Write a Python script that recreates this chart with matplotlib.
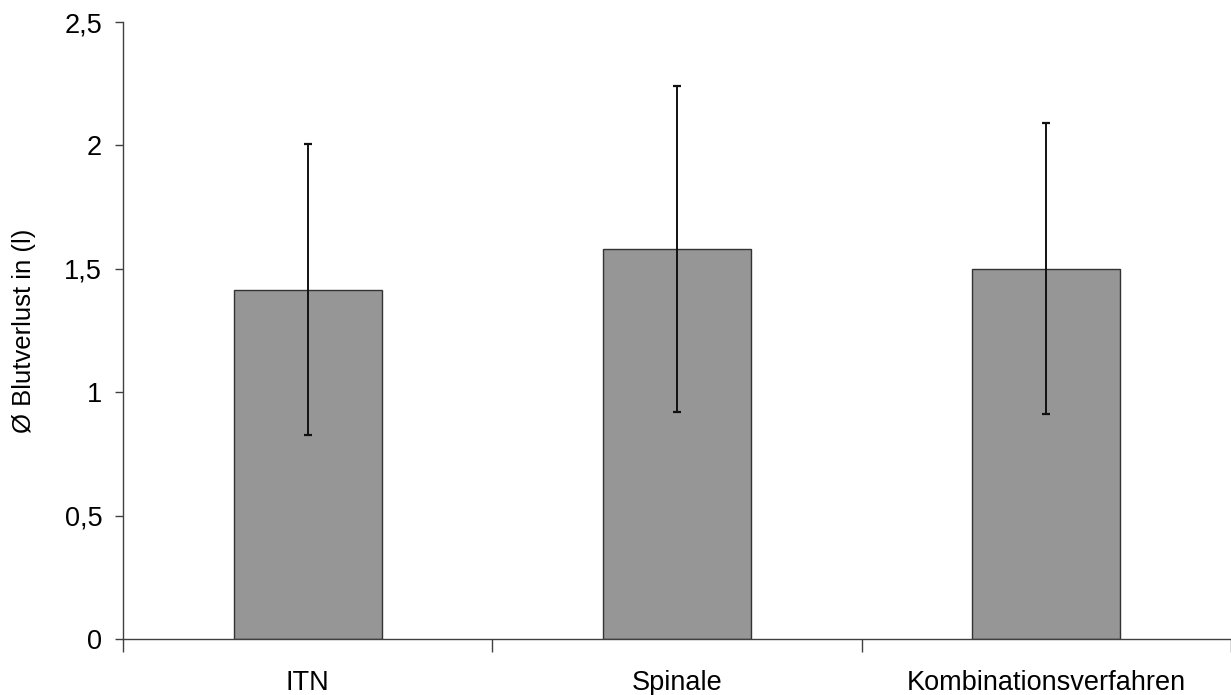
import matplotlib
matplotlib.use("Agg")
import matplotlib.pyplot as plt
from matplotlib.ticker import FuncFormatter

# Daten
kategorien = ["ITN", "Spinale", "Kombinationsverfahren"]
mittelwerte = [1.415, 1.58, 1.50]
fehler = [0.59, 0.66, 0.59]

plt.rcParams['font.family'] = ['Liberation Sans', 'DejaVu Sans']

fig = plt.figure(figsize=(12.31, 6.95), dpi=100)
ax = fig.add_axes([0.0999, 0.0806, 0.9001, 0.8877])

pos = list(range(len(kategorien)))
ax.bar(pos, mittelwerte, width=0.4, color='#969696', edgecolor='#333333', linewidth=1.0,
       yerr=fehler, error_kw=dict(ecolor='#111111', elinewidth=1.4, capsize=3, capthick=1.6),
       zorder=2)

ax.set_xlim(-0.5, len(kategorien) - 0.5)
ax.set_ylim(0, 2.5)
ax.set_yticks([0, 0.5, 1, 1.5, 2, 2.5])
ax.yaxis.set_major_formatter(FuncFormatter(lambda v, p: f"{v:g}".replace('.', ',')))

# Striche an den Kategoriegrenzen, Beschriftung in der Mitte
ax.set_xticks([p - 0.5 for p in pos] + [pos[-1] + 0.5])
ax.set_xticklabels([])
ax.set_xticks(pos, minor=True)
ax.set_xticklabels(kategorien, minor=True)
ax.tick_params(axis='x', which='minor', length=0, pad=22, labelsize=19.5)
ax.tick_params(axis='x', which='major', length=9, width=1, color='#404040')
ax.tick_params(axis='y', length=6, width=1, color='#404040', labelsize=19.5, pad=9)

ax.set_ylabel("Ø Blutverlust in (l)", fontsize=18.5, labelpad=20)

for s in ['top', 'right']:
    ax.spines[s].set_visible(False)
for s in ['left', 'bottom']:
    ax.spines[s].set_color('#404040')
    ax.spines[s].set_linewidth(1)

fig.savefig("out.png", dpi=100)
